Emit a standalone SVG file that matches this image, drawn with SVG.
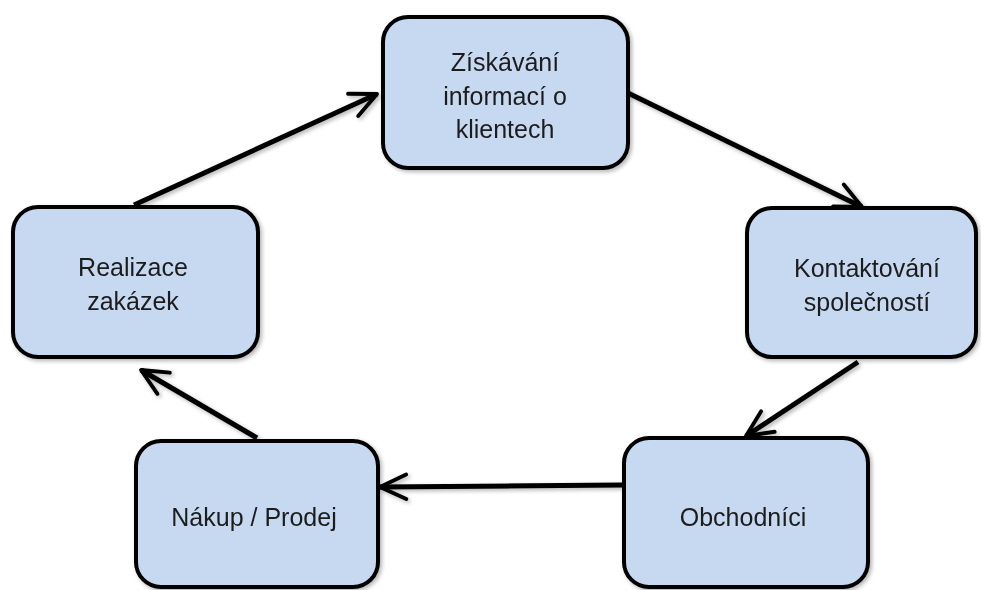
<svg xmlns="http://www.w3.org/2000/svg" width="981" height="590" viewBox="0 0 981 590">
<defs>
<style>
.box{fill:#c6d9f1;stroke:#000;stroke-width:4}
.lbl{font-family:"Liberation Sans",Arial,sans-serif;font-size:25px;fill:#1c1c1c;text-anchor:middle}
.con{stroke:#000;stroke-width:5;fill:none;marker-end:url(#ah)}
</style>
<marker id="ah" viewBox="0 0 10 10" refX="9" refY="5" markerWidth="7" markerHeight="7" orient="auto" markerUnits="strokeWidth">
<path d="M1.5,1.5 L9,5 L1.5,8.5" fill="none" stroke="#000" stroke-width="1.1" stroke-linecap="round" stroke-linejoin="round"/>
</marker>
<filter id="sh" x="-10%" y="-10%" width="130%" height="130%">
<feGaussianBlur in="SourceAlpha" stdDeviation="2"/>
<feOffset dx="2" dy="2" result="b"/>
<feComponentTransfer><feFuncA type="linear" slope="0.3"/></feComponentTransfer>
<feMerge><feMergeNode/><feMergeNode in="SourceGraphic"/></feMerge>
</filter>
</defs>
<rect width="981" height="590" fill="#fff"/>
<g id="connectors" filter="url(#sh)">
<line class="con" x1="134" y1="205" x2="377" y2="94"/>
<line class="con" x1="628" y1="93" x2="862" y2="207"/>
<line class="con" x1="858" y1="362" x2="746" y2="436"/>
<line class="con" x1="622" y1="485" x2="380" y2="487"/>
<line class="con" x1="257" y1="438" x2="141" y2="370"/>
</g>
<g id="n1" filter="url(#sh)">
<rect class="box" x="383" y="17" width="245" height="151" rx="25"/>
<text class="lbl" x="505" y="71">Získávání</text>
<text class="lbl" x="505" y="105">informací o</text>
<text class="lbl" x="505" y="138">klientech</text>
</g>
<g id="n2" filter="url(#sh)">
<rect class="box" x="13" y="207" width="245" height="150" rx="25"/>
<text class="lbl" x="133" y="276">Realizace</text>
<text class="lbl" x="133" y="310">zakázek</text>
</g>
<g id="n3" filter="url(#sh)">
<rect class="box" x="747" y="208" width="229" height="149" rx="25"/>
<text class="lbl" x="867" y="277">Kontaktování</text>
<text class="lbl" x="867" y="311">společností</text>
</g>
<g id="n4" filter="url(#sh)">
<rect class="box" x="136" y="441" width="242" height="146" rx="25"/>
<text class="lbl" x="254" y="526">Nákup / Prodej</text>
</g>
<g id="n5" filter="url(#sh)">
<rect class="box" x="624" y="438" width="244" height="149" rx="25"/>
<text class="lbl" x="743" y="526">Obchodníci</text>
</g>
</svg>
